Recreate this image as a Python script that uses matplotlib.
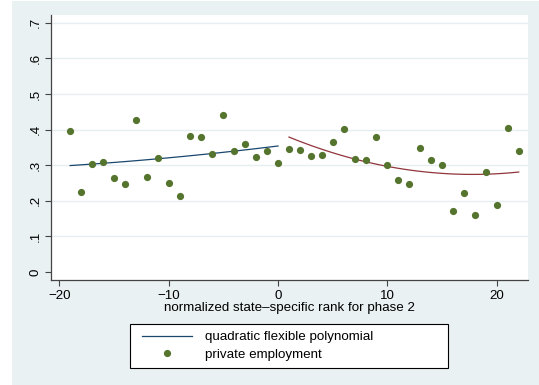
import numpy as np
import matplotlib
matplotlib.use("Agg")
import matplotlib.pyplot as plt
from matplotlib.patches import Rectangle
from matplotlib.lines import Line2D
from matplotlib.legend_handler import HandlerLine2D

plt.rcParams['font.family'] = ['Liberation Sans', 'DejaVu Sans']

# Bin means of private employment by normalized rank
rank = list(range(-19, 23))
private_emp = [0.396, 0.225, 0.303, 0.310, 0.265, 0.248, 0.426, 0.266, 0.321, 0.251,
               0.213, 0.381, 0.380, 0.331, 0.441, 0.341, 0.359, 0.324, 0.341, 0.305,
               0.345, 0.344, 0.325, 0.328, 0.364, 0.401, 0.317, 0.316, 0.380, 0.301,
               0.258, 0.246, 0.347, 0.315, 0.301, 0.171, 0.221, 0.161, 0.282, 0.187,
               0.405, 0.341]

# Fitted polynomial values on each side of the cutoff
fit_left_x = [-19, -11, 0]
fit_left_y = [0.299, 0.318, 0.354]
fit_right_x = [1, 10, 17, 22]
fit_right_y = [0.379, 0.297, 0.274, 0.281]

xticks = [-20, -10, 0, 10, 20]
xticklabels = ['\u221220', '\u221210', '0', '10', '20']
yticks = [0, 0.1, 0.2, 0.3, 0.4, 0.5, 0.6, 0.7]
yticklabels = ['0', '.1', '.2', '.3', '.4', '.5', '.6', '.7']

NAVY = (26/255, 71/255, 111/255)
MAROON = (144/255, 53/255, 59/255)
GREEN = (85/255, 117/255, 47/255)
BG = '#EAF1F3'
GRID = '#E6EEF1'
FS = 9.6

W, H = 539, 385
fig = plt.figure(figsize=(W/100, H/100), dpi=100, facecolor='white')
fig.patches.append(Rectangle((12/W, 0), 1 - 12/W, 1 - 1/H, transform=fig.transFigure,
                             facecolor=BG, edgecolor='none', zorder=-10))

ax = fig.add_axes([51/W, 1 - 280/H, (528-51)/W, (280-15)/H])
ax.set_facecolor('white')

for yt in yticks[1:]:
    ax.axhline(yt, color=GRID, lw=1.0, zorder=1)

# quadratic fits through the fitted values
cl = np.polyfit(fit_left_x, fit_left_y, 2)
xl = np.linspace(fit_left_x[0], fit_left_x[-1], 100)
ax.plot(xl, np.polyval(cl, xl), color=NAVY, lw=0.9, zorder=3)
cr = np.polyfit(fit_right_x, fit_right_y, 2)
xr = np.linspace(fit_right_x[0], fit_right_x[-1], 100)
ax.plot(xr, np.polyval(cr, xr), color=MAROON, lw=0.9, zorder=3)

ax.plot(rank, private_emp, 'o', color=GREEN, ms=5.2, mec='none', zorder=4)

ax.set_xlim(-20.75, 22.85)
ax.set_ylim(-0.0225, 0.722)
ax.set_xticks(xticks)
ax.set_xticklabels(xticklabels, fontsize=FS)
ax.set_yticks(yticks)
ax.set_yticklabels(yticklabels, fontsize=FS, rotation=90, va='center')
ax.tick_params(axis='both', direction='out', length=4, width=0.8, color='#444444',
               pad=3)
for s in ['top', 'right']:
    ax.spines[s].set_visible(False)
for s in ['left', 'bottom']:
    ax.spines[s].set_color('#444444')
    ax.spines[s].set_linewidth(0.9)

fig.text(289/W, 1 - 308/H, 'normalized state\u2013specific rank for phase 2',
         ha='center', va='center', fontsize=FS)

PAD = 0.4
handles = [Line2D([], [], color=NAVY, lw=0.9),
           Line2D([], [], marker='o', ls='none', color=GREEN, ms=5.2, mec='none')]
leg = fig.legend(handles, ['quadratic flexible polynomial', 'private employment'],
                 loc='center', mode='expand',
                 bbox_to_anchor=(130/W, 1 - 368/H, 318/W, 44/H), fontsize=FS,
                 frameon=True, fancybox=False, edgecolor='black', framealpha=1,
                 handlelength=3.75 + PAD, handletextpad=1.0, borderpad=0.5,
                 labelspacing=0.4, borderaxespad=0,
                 handler_map={Line2D: HandlerLine2D(xpad=PAD)})
leg.get_frame().set_linewidth(0.8)

fig.savefig('out.png', dpi=100, facecolor=fig.get_facecolor())
